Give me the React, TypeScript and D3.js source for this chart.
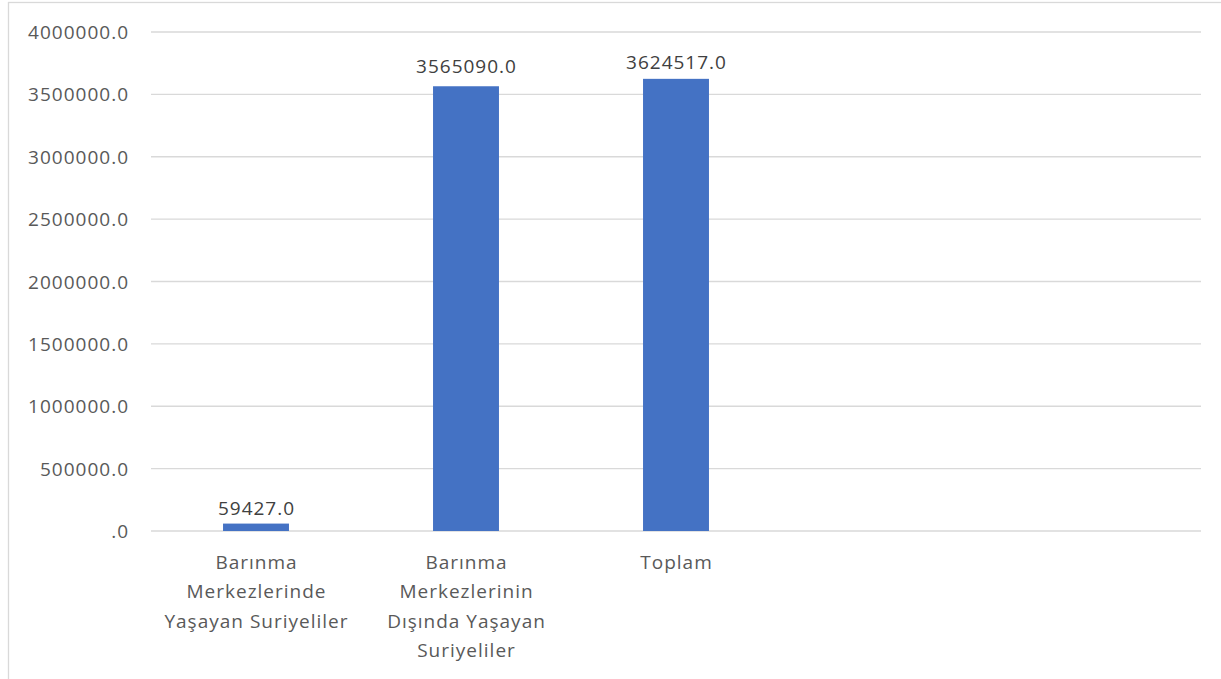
import React from "react";
import * as d3 from "d3";

const categories = ["c1", "c2", "c3", "c4", "c5"];
const categoryLabels: string[][] = [
  ["Barınma", "Merkezlerinde", "Yaşayan Suriyeliler"],
  ["Barınma", "Merkezlerinin", "Dışında Yaşayan", "Suriyeliler"],
  ["Toplam"],
  [],
  [],
];
const values: (number | null)[] = [59427, 3565090, 3624517, null, null];
const yTicks = [0, 500000, 1000000, 1500000, 2000000, 2500000, 3000000, 3500000, 4000000];

const W = 1221;
const H = 679;
const FONT = "'Open Sans', sans-serif";
const TEXT = "#595959";
const GRID = "#d9d9d9";
const LS = 1;
const LABEL_GAP = [9, 13.5, 9.5, 9, 9];

function fmt(v: number) {
  const s = v.toFixed(1);
  return s.startsWith("0") ? s.slice(1) : s;
}

export default function App() {
  const left = 151;
  const right = 1201;
  const top = 32;
  const bottom = 531;

  const x = d3.scaleBand<string>().domain(categories).range([left, right]).paddingInner(0).paddingOuter(0);
  const y = d3.scaleLinear().domain([0, 4000000]).range([bottom, top]);
  const barW = x.step() * 0.314;

  return (
    <svg width={W} height={H} style={{ position: "absolute", left: 0, top: 0, background: "#fff" }}>
      <rect x={8.5} y={2.5} width={W + 10} height={H + 10} fill="#fff" stroke={GRID} strokeWidth={1.3} />
      {yTicks.map((t) => (
        <g key={t}>
          <line x1={left} x2={right} y1={y(t)} y2={y(t)} stroke={GRID} strokeWidth={1.3} />
          <text x={128 + LS} y={y(t) + 7} textAnchor="end" fill={TEXT} fontFamily={FONT} fontSize={19} letterSpacing={LS}>
            {fmt(t)}
          </text>
        </g>
      ))}
      {categories.map((c, i) => {
        const v = values[i];
        const cx = (x(c) as number) + x.step() / 2;
        return (
          <g key={c}>
            {v != null && (
              <>
                <rect x={cx - barW / 2} y={y(v)} width={barW} height={bottom - y(v)} fill="#4472c4" />
                <text x={cx + LS / 2} y={y(v) - LABEL_GAP[i]} textAnchor="middle" fill="#404040" fontFamily={FONT} fontSize={19} letterSpacing={LS}>
                  {fmt(v)}
                </text>
              </>
            )}
            {categoryLabels[i].map((ln, j) => (
              <text key={j} x={cx + LS / 2} y={569 + j * 29.3} textAnchor="middle" fill={TEXT} fontFamily={FONT} fontSize={19} letterSpacing={LS}>
                {ln}
              </text>
            ))}
          </g>
        );
      })}
    </svg>
  );
}
